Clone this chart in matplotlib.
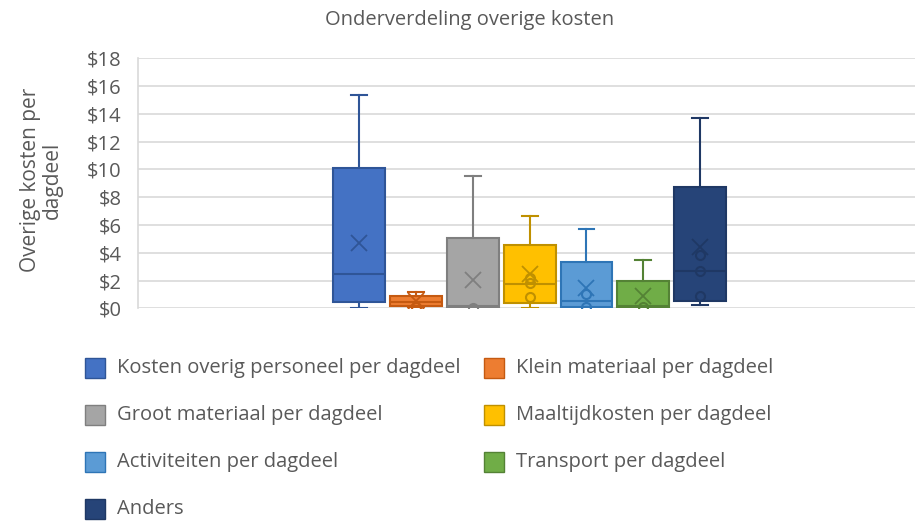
import matplotlib.pyplot as plt
import numpy as np
from matplotlib.patches import Rectangle

# series (Excel box & whisker)
series = ["Kosten overig personeel per dagdeel", "Klein materiaal per dagdeel",
          "Groot materiaal per dagdeel", "Maaltijdkosten per dagdeel",
          "Activiteiten per dagdeel", "Transport per dagdeel", "Anders"]
whis_lo = [0.0, 0.0, 0.0, 0.05, 0.0, 0.0, 0.27]
q1 = [0.48, 0.17, 0.1, 0.4, 0.1, 0.1, 0.52]
median = [2.45, 0.45, 0.2, 1.75, 0.5, 0.15, 2.67]
q3 = [10.07, 0.86, 5.03, 4.58, 3.35, 1.98, 8.75]
whis_hi = [15.34, 1.2, 9.54, 6.66, 5.68, 3.47, 13.67]
means = [4.68, 0.55, 2.04, 2.45, 1.44, 0.9, 4.4]
inner_points = [[], [0.1], [0.05], [0.79, 1.8, 2.2], [0.07, 1.05], [0.07], [0.92, 2.67, 3.85]]

fill_colors = ["#4472C4", "#ED7D31", "#A5A5A5", "#FFC000", "#5B9BD5", "#70AD47", "#264478"]
edge_colors = ["#2F5597", "#C55A11", "#7F7F7F", "#BF9000", "#2E75B6", "#548235", "#1F3864"]

yticks = np.arange(0, 19, 2)
text_color = "#595959"

W, H = 915, 521
plt.rcParams['font.family'] = ['Open Sans', 'DejaVu Sans']

fig = plt.figure(figsize=(W / 100, H / 100), dpi=100)


def fx(x):
    return x / W


def fy(y):
    return 1 - y / H


# plot area: left edge x=138, $0 at y=308, $18 at y=58, runs off the right side
ax = fig.add_axes([fx(138), fy(308.3), 1 - fx(138), (308.3 - 58.3) / H])

positions = np.arange(len(series))
stats = []
for i in range(len(series)):
    stats.append(dict(whislo=whis_lo[i], q1=q1[i], med=median[i], q3=q3[i],
                      whishi=whis_hi[i], mean=means[i], fliers=[]))

for i, st in enumerate(stats):
    ax.bxp([st], positions=[positions[i]], widths=0.915, capwidths=0.28,
           patch_artist=True, showmeans=True, showfliers=False,
           boxprops=dict(facecolor=fill_colors[i], edgecolor=edge_colors[i], linewidth=1.5),
           medianprops=dict(color=edge_colors[i], linewidth=1.5),
           whiskerprops=dict(color=edge_colors[i], linewidth=1.5),
           capprops=dict(color=edge_colors[i], linewidth=1.5),
           meanprops=dict(marker='x', markersize=11, markeredgewidth=1.3,
                          markeredgecolor=edge_colors[i], markerfacecolor='none'),
           zorder=3)
    if inner_points[i]:
        ax.plot([positions[i]] * len(inner_points[i]), inner_points[i], 'o',
                markersize=6.5, markerfacecolor='none', markeredgewidth=1.5,
                markeredgecolor=edge_colors[i], zorder=4)

ax.set_xlim((138 - 359.3) / 56.8, (915 - 359.3) / 56.8)
ax.set_ylim(0, 18)
ax.set_yticks(yticks)
ax.set_yticklabels(["${}".format(v) for v in yticks], fontsize=14.5, color=text_color)
ax.set_xticks([])
ax.tick_params(axis='y', length=0, pad=12)
ax.yaxis.grid(True, color="#D9D9D9", linewidth=1.2, zorder=0)
ax.set_axisbelow(True)
for side in ['top', 'right', 'bottom']:
    ax.spines[side].set_visible(False)
ax.spines['left'].set_color("#D9D9D9")
ax.spines['left'].set_linewidth(1.2)

fig.text(fx(470), fy(20), "Onderverdeling overige kosten", ha='center', va='center',
         fontsize=14.5, color=text_color)
fig.text(fx(41), fy(180), "Overige kosten per\ndagdeel", ha='center', va='center',
         rotation=90, fontsize=15, color=text_color, linespacing=1.05)

# legend, two columns filled row by row
col_x = [85, 484]
row_y = [368, 415, 462, 509]
for i, name in enumerate(series):
    x0 = col_x[i % 2]
    y0 = row_y[i // 2]
    fig.patches.append(Rectangle((fx(x0), fy(y0 + 10)), 20 / W, 20 / H,
                                 transform=fig.transFigure, facecolor=fill_colors[i],
                                 edgecolor=edge_colors[i], linewidth=1))
    fig.text(fx(x0 + 32), fy(y0), name, ha='left', va='center',
             fontsize=14.5, color=text_color)

fig.savefig("out.png", dpi=100)
